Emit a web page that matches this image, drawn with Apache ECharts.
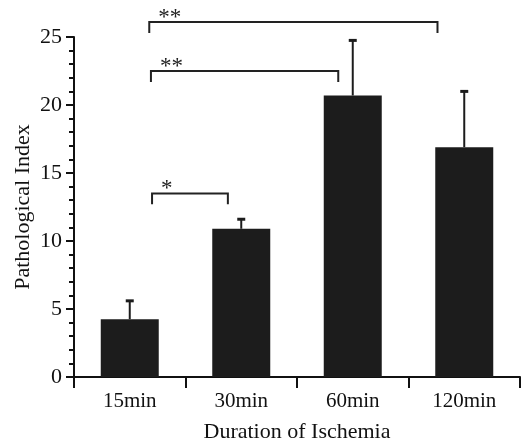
<!DOCTYPE html>
<html>
<head>
<meta charset="utf-8">
<script src="https://cdn.jsdelivr.net/npm/echarts@6/dist/echarts.min.js"></script>
<style>html,body{margin:0;padding:0;background:#fff}#c{width:521px;height:446px}</style>
</head>
<body>
<div id="c"></div>
<script>
const categories = ['15min', '30min', '60min', '120min'];
const means = [4.25, 10.9, 20.7, 16.9];
const errors = [1.35, 0.7, 4.05, 4.1];
const yTicks = [0, 5, 10, 15, 20, 25];
const bracketFrom = [0, 0, 0];
const bracketTo = [3, 2, 1];
const bracketY = [26.1, 22.5, 13.5];
const bracketLabels = ['**', '**', '*'];

const FONT = 'Liberation Serif';
const chart = echarts.init(document.getElementById('c'));

const errData = categories.map((c, i) => [i, means[i], means[i] + errors[i]]);
const brData = bracketFrom.map((f, i) => [f, bracketTo[i], bracketY[i], i]);

chart.setOption({
  backgroundColor: '#fff',
  animation: false,
  grid: { left: 74, right: 1, top: 37, bottom: 69, containLabel: false, outerBoundsMode: 'none' },
  xAxis: {
    type: 'category',
    data: categories,
    boundaryGap: true,
    name: 'Duration of Ischemia',
    nameLocation: 'middle',
    nameGap: 44,
    nameMoveOverlap: false,
    nameTextStyle: { fontFamily: FONT, fontSize: 22, color: '#111' },
    axisLine: { lineStyle: { color: '#111', width: 2 } },
    axisTick: { show: true, length: 11, lineStyle: { color: '#111', width: 2 } },
    axisLabel: { fontFamily: FONT, fontSize: 21, color: '#111', margin: 14 },
    splitLine: { show: false }
  },
  yAxis: {
    type: 'value',
    min: 0, max: 25, interval: 5,
    name: 'Pathological Index',
    nameLocation: 'middle',
    nameGap: 40,
    nameMoveOverlap: false,
    nameTextStyle: { fontFamily: FONT, fontSize: 22, color: '#111' },
    axisLine: { show: true, lineStyle: { color: '#111', width: 2 } },
    axisTick: { show: true, length: 8, lineStyle: { color: '#111', width: 2 } },
    minorTick: { show: true, splitNumber: 5, length: 5, lineStyle: { color: '#111', width: 2 } },
    axisLabel: { fontFamily: FONT, fontSize: 22, color: '#111', margin: 12,
      formatter: v => yTicks.indexOf(v) >= 0 ? String(v) : '' },
    splitLine: { show: false }
  },
  series: [
    {
      type: 'bar',
      data: means,
      barWidth: 58,
      itemStyle: { color: '#1c1c1c' },
      z: 2
    },
    {
      type: 'custom',
      data: errData,
      z: 3,
      renderItem: function (params, api) {
        const top = api.coord([api.value(0), api.value(2)]);
        const base = api.coord([api.value(0), api.value(1)]);
        const style = { stroke: '#1c1c1c', lineWidth: 2, fill: 'none' };
        return {
          type: 'group',
          children: [
            { type: 'line', shape: { x1: top[0], y1: base[1], x2: top[0], y2: top[1] }, style: style },
            { type: 'line', shape: { x1: top[0] - 4, y1: top[1], x2: top[0] + 4, y2: top[1] }, style: { stroke: '#1c1c1c', lineWidth: 3, fill: 'none' } }
          ]
        };
      }
    },
    {
      type: 'custom',
      data: brData,
      clip: false,
      z: 4,
      renderItem: function (params, api) {
        const idx = api.value(3);
        const y = api.coord([0, api.value(2)])[1];
        const yDrop = api.coord([0, api.value(2) - 0.8])[1];
        const w = api.size([1, 0])[0];
        const leftOff = [0.175, 0.19, 0.2][idx];
        const rightOff = [-0.24, -0.13, -0.12][idx];
        const x1 = api.coord([api.value(0), 0])[0] + leftOff * w;
        const x2 = api.coord([api.value(1), 0])[0] + rightOff * w;
        return {
          type: 'group',
          children: [
            { type: 'polyline', shape: { points: [[x1, yDrop], [x1, y], [x2, y], [x2, yDrop]] }, style: { stroke: '#222', lineWidth: 2, fill: null } },
            { type: 'text', style: { text: bracketLabels[idx], x: x1 + 9, y: y - 16, fontFamily: FONT, fontSize: 23, fill: '#222', textVerticalAlign: 'top', textAlign: 'left' } }
          ]
        };
      }
    }
  ]
});
</script>
</body>
</html>
